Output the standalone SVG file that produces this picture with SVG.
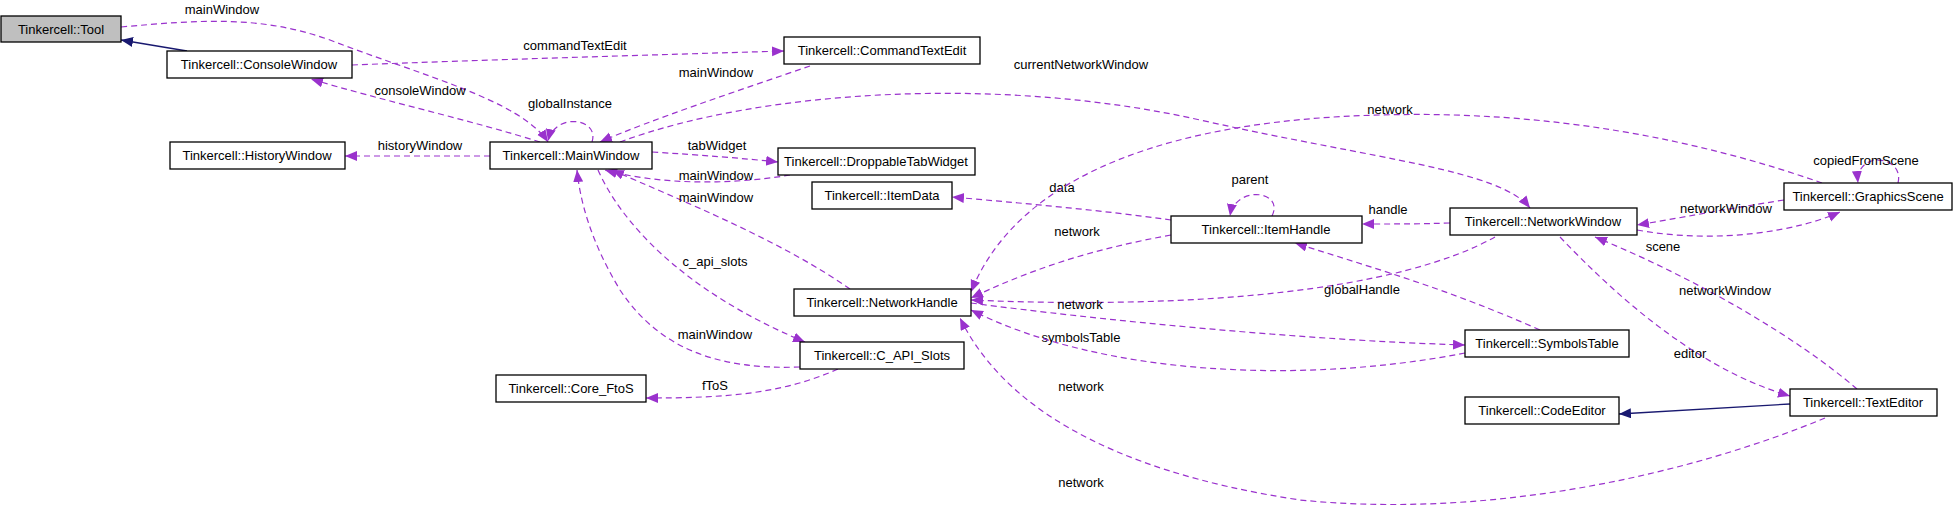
<svg xmlns="http://www.w3.org/2000/svg" width="1960" height="515" viewBox="0 0 1960 515">
<style>
.n rect{fill:#fff;stroke:#000;stroke-width:1.3}
.n text,.l{font-family:"Liberation Sans",Arial,sans-serif;font-size:13px;text-anchor:middle;fill:#000}
.d{fill:none;stroke:#9a32cd;stroke-width:1.2;stroke-dasharray:6,4;marker-end:url(#ap)}
.i{fill:none;stroke:#191970;stroke-width:1.3;marker-end:url(#an)}
</style>
<defs>
<marker id="ap" markerUnits="userSpaceOnUse" markerWidth="14" markerHeight="12" refX="12" refY="5" orient="auto"><path d="M0,0 L12,5 L0,10 Z" fill="#9a32cd"/></marker>
<marker id="an" markerUnits="userSpaceOnUse" markerWidth="14" markerHeight="12" refX="12" refY="5" orient="auto"><path d="M0,0 L12,5 L0,10 Z" fill="#191970"/></marker>
</defs>
<rect width="1960" height="515" fill="#fff"/>
<g id="connectors">
<path class="i" d="M187,51 L121,40"/>
<path class="d" d="M121,27 C200,20 260,15 330,40 C420,75 520,100 548,142"/><text class="l" x="222" y="14">mainWindow</text>
<path class="d" d="M352,65 C480,60 650,55 784,51"/><text class="l" x="575" y="50">commandTextEdit</text>
<path class="d" d="M540,142 C470,120 380,100 311,79"/><text class="l" x="420" y="95">consoleWindow</text>
<path class="d" d="M592,142 C600,118 555,112 548,141"/><text class="l" x="570" y="108">globalInstance</text>
<path class="d" d="M810,66 C740,90 650,120 600,142"/><text class="l" x="716" y="77">mainWindow</text>
<path class="d" d="M620,142 C760,90 1000,75 1200,120 C1380,160 1500,170 1530,208"/><text class="l" x="1081" y="69">currentNetworkWindow</text>
<path class="d" d="M490,156 L345,156"/><text class="l" x="420" y="150">historyWindow</text>
<path class="d" d="M652,152 C700,155 740,158 778,162"/><text class="l" x="717" y="150">tabWidget</text>
<path class="d" d="M790,175 C730,185 660,185 605,170"/><text class="l" x="716" y="180">mainWindow</text>
<path class="d" d="M850,289 C780,240 680,200 612,170"/><text class="l" x="716" y="202">mainWindow</text>
<path class="d" d="M598,170 C620,220 680,290 805,342"/><text class="l" x="715" y="266">c_api_slots</text>
<path class="d" d="M800,367 C720,370 660,350 620,290 C590,240 580,200 577,170"/><text class="l" x="715" y="339">mainWindow</text>
<path class="d" d="M838,369 C780,395 720,398 646,398"/><text class="l" x="715" y="390">fToS</text>
<path class="d" d="M1171,220 C1100,210 1020,203 952,197"/><text class="l" x="1062" y="192">data</text>
<path class="d" d="M1272,216 C1285,190 1235,185 1230,216"/><text class="l" x="1250" y="184">parent</text>
<path class="d" d="M1171,235 C1100,248 1040,265 971,298"/><text class="l" x="1077" y="236">network</text>
<path class="d" d="M1450,223 C1420,224 1400,224 1362,224"/><text class="l" x="1388" y="214">handle</text>
<path class="d" d="M1822,183 C1700,140 1550,110 1380,115 C1180,120 1020,170 971,292"/><text class="l" x="1390" y="114">network</text>
<path class="d" d="M1495,237 C1400,290 1200,310 971,300"/><text class="l" x="1080" y="309">network</text>
<path class="d" d="M1540,330 C1450,290 1380,270 1295,243"/><text class="l" x="1362" y="294">globalHandle</text>
<path class="d" d="M971,303 C1100,320 1300,340 1465,345"/><text class="l" x="1081" y="342">symbolsTable</text>
<path class="d" d="M1465,353 C1300,385 1100,375 971,310"/><text class="l" x="1081" y="391">network</text>
<path class="d" d="M1560,237 C1620,300 1700,370 1790,396"/><text class="l" x="1690" y="358">editor</text>
<path class="d" d="M1857,389 C1800,340 1700,280 1595,237"/><text class="l" x="1725" y="295">networkWindow</text>
<path class="i" d="M1790,404 L1619,414"/>
<path class="d" d="M1825,418 C1700,470 1500,520 1300,500 C1100,470 1000,400 960,318"/><text class="l" x="1081" y="487">network</text>
<path class="d" d="M1784,200 C1720,210 1680,218 1637,225"/><text class="l" x="1726" y="213">networkWindow</text>
<path class="d" d="M1637,230 C1720,245 1800,230 1840,212"/><text class="l" x="1663" y="251">scene</text>
<path class="d" d="M1898,183 C1905,155 1855,150 1858,183"/><text class="l" x="1866" y="165">copiedFromScene</text>
</g>
<g id="Tool" class="n"><rect x="1" y="16" width="120" height="26" style="fill:#bfbfbf"/><text x="61" y="34">Tinkercell::Tool</text></g>
<g id="ConsoleWindow" class="n"><rect x="167" y="51" width="185" height="27"/><text x="259" y="69">Tinkercell::ConsoleWindow</text></g>
<g id="CommandTextEdit" class="n"><rect x="784" y="37" width="196" height="27"/><text x="882" y="55">Tinkercell::CommandTextEdit</text></g>
<g id="HistoryWindow" class="n"><rect x="170" y="142" width="175" height="27"/><text x="257" y="160">Tinkercell::HistoryWindow</text></g>
<g id="MainWindow" class="n"><rect x="490" y="142" width="162" height="27"/><text x="571" y="160">Tinkercell::MainWindow</text></g>
<g id="DroppableTabWidget" class="n"><rect x="778" y="148" width="197" height="27"/><text x="876" y="166">Tinkercell::DroppableTabWidget</text></g>
<g id="ItemData" class="n"><rect x="812" y="182" width="140" height="27"/><text x="882" y="200">Tinkercell::ItemData</text></g>
<g id="NetworkHandle" class="n"><rect x="794" y="289" width="177" height="27"/><text x="882" y="307">Tinkercell::NetworkHandle</text></g>
<g id="C_API_Slots" class="n"><rect x="800" y="342" width="164" height="27"/><text x="882" y="360">Tinkercell::C_API_Slots</text></g>
<g id="Core_FtoS" class="n"><rect x="496" y="375" width="150" height="27"/><text x="571" y="393">Tinkercell::Core_FtoS</text></g>
<g id="ItemHandle" class="n"><rect x="1171" y="216" width="191" height="27"/><text x="1266" y="234">Tinkercell::ItemHandle</text></g>
<g id="NetworkWindow" class="n"><rect x="1450" y="208" width="187" height="27"/><text x="1543" y="226">Tinkercell::NetworkWindow</text></g>
<g id="GraphicsScene" class="n"><rect x="1784" y="183" width="168" height="27"/><text x="1868" y="201">Tinkercell::GraphicsScene</text></g>
<g id="SymbolsTable" class="n"><rect x="1465" y="330" width="164" height="27"/><text x="1547" y="348">Tinkercell::SymbolsTable</text></g>
<g id="TextEditor" class="n"><rect x="1790" y="389" width="147" height="27"/><text x="1863" y="407">Tinkercell::TextEditor</text></g>
<g id="CodeEditor" class="n"><rect x="1465" y="397" width="154" height="27"/><text x="1542" y="415">Tinkercell::CodeEditor</text></g>
</svg>
